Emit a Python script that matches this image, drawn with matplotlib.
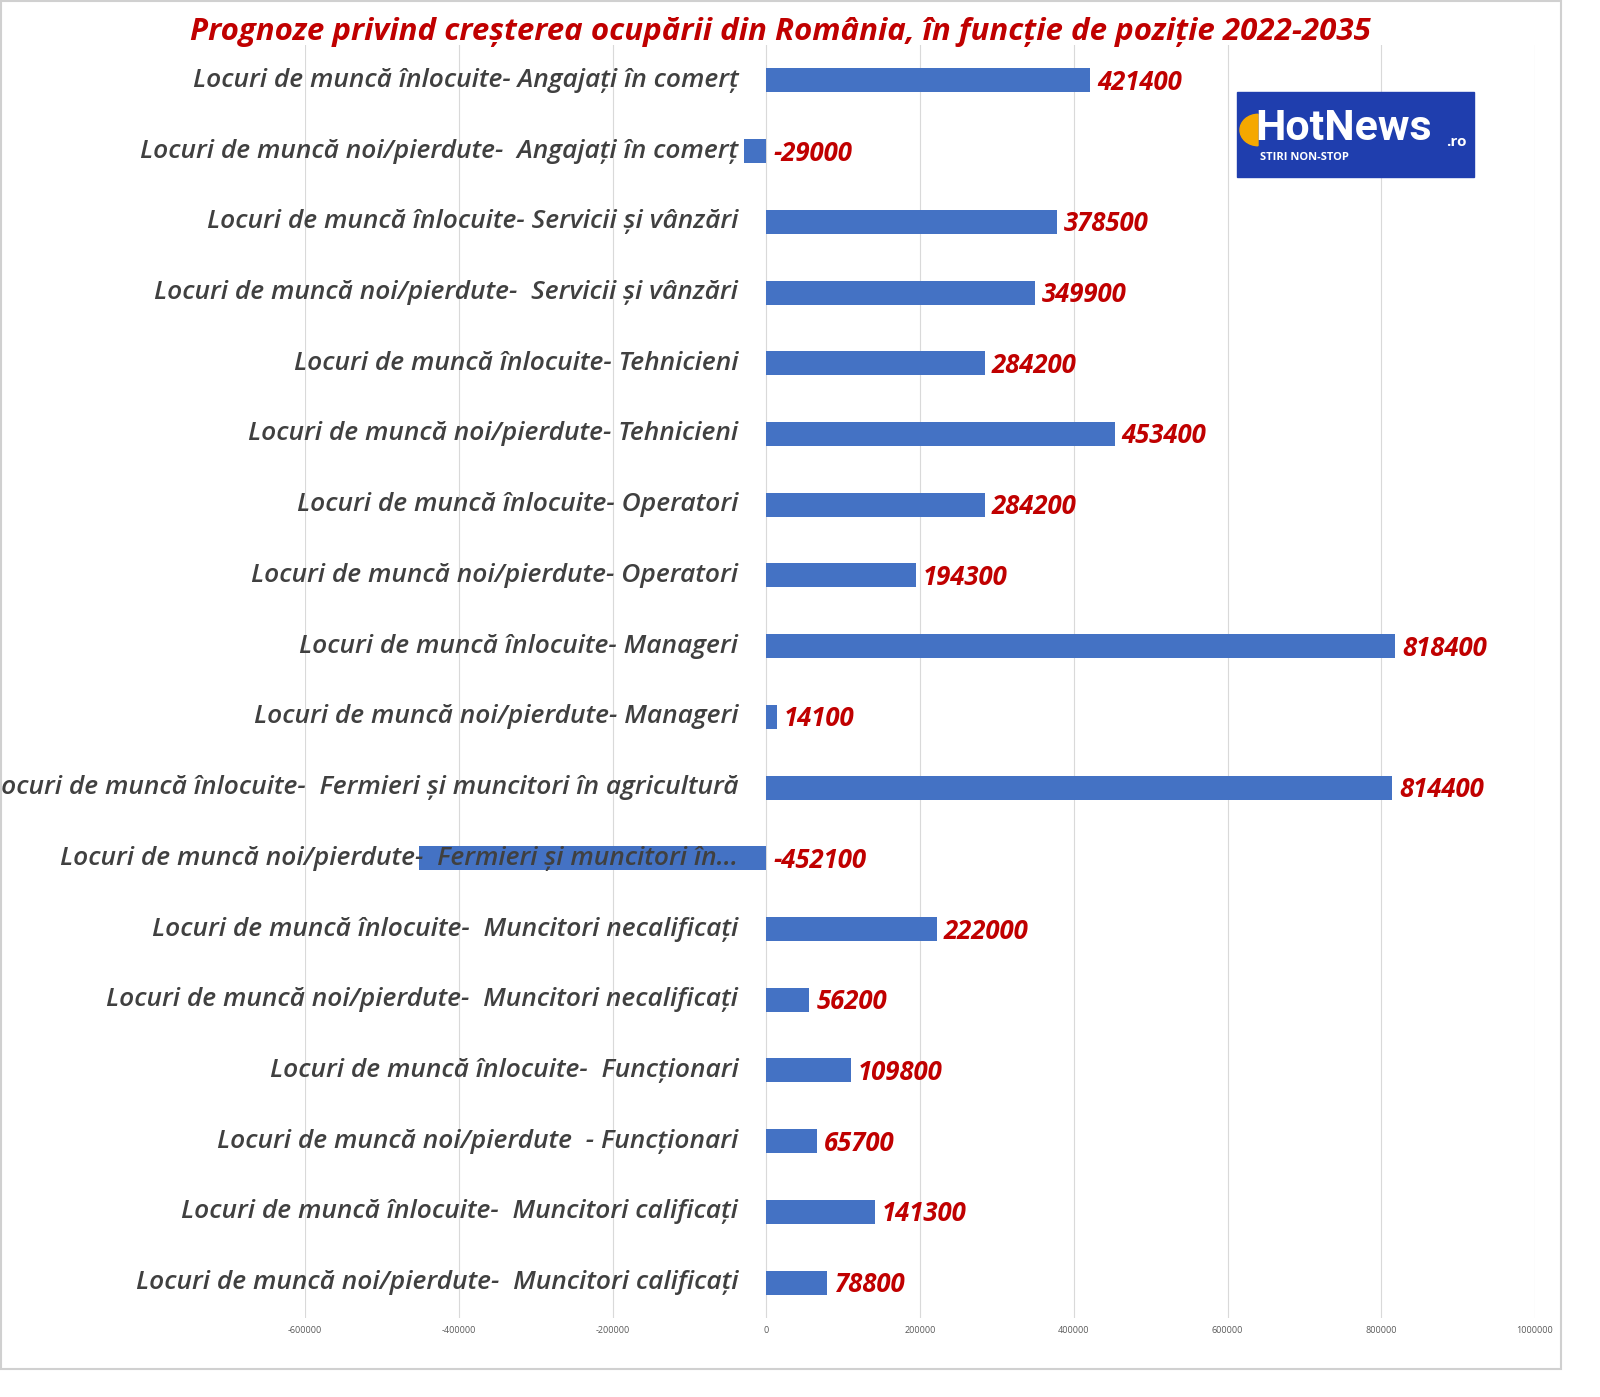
import matplotlib.pyplot as plt
from matplotlib.patches import Rectangle, Wedge

plt.rcParams['font.family'] = ['Open Sans', 'DejaVu Sans']

labels = [
    "Locuri de muncă înlocuite- Angajați în comerț",
    "Locuri de muncă noi/pierdute-  Angajați în comerț",
    "Locuri de muncă înlocuite- Servicii și vânzări",
    "Locuri de muncă noi/pierdute-  Servicii și vânzări",
    "Locuri de muncă înlocuite- Tehnicieni",
    "Locuri de muncă noi/pierdute- Tehnicieni",
    "Locuri de muncă înlocuite- Operatori",
    "Locuri de muncă noi/pierdute- Operatori",
    "Locuri de muncă înlocuite- Manageri",
    "Locuri de muncă noi/pierdute- Manageri",
    "Locuri de muncă înlocuite-  Fermieri și muncitori în agricultură",
    "Locuri de muncă noi/pierdute-  Fermieri și muncitori în...",
    "Locuri de muncă înlocuite-  Muncitori necalificați",
    "Locuri de muncă noi/pierdute-  Muncitori necalificați",
    "Locuri de muncă înlocuite-  Funcționari",
    "Locuri de muncă noi/pierdute  - Funcționari",
    "Locuri de muncă înlocuite-  Muncitori calificați",
    "Locuri de muncă noi/pierdute-  Muncitori calificați",
]
values = [421400, -29000, 378500, 349900, 284200, 453400, 284200, 194300,
          818400, 14100, 814400, -452100, 222000, 56200, 109800, 65700,
          141300, 78800]
ticks = list(range(-600000, 1000001, 200000))

W, H = 1600, 1397
fig = plt.figure(figsize=(16, 13.97), dpi=100)
# frame around chart
fig.patches.append(Rectangle((1 / W, 1 - 1369 / H), 1560 / W, 1368 / H,
                             transform=fig.transFigure, fill=False,
                             edgecolor='#d0d0d0', lw=1.5))

ax = fig.add_axes([305 / W, 1 - 1318 / H, 1230 / W, 1273 / H])
y = list(range(len(values)))
ax.barh(y, values, height=0.34, color='#4472C4', zorder=3)
ax.set_xlim(-600000, 1000000)
ax.set_ylim(len(values) - 0.5, -0.5)
ax.set_xticks(ticks)
ax.set_xticklabels([str(t) for t in ticks])
ax.tick_params(axis='x', labelsize=6.5, colors='#595959', length=0, pad=6)
ax.set_yticks([])
ax.grid(axis='x', color='#d9d9d9', lw=0.8, zorder=0)
for s in ax.spines.values():
    s.set_visible(False)

for yi, lab, v in zip(y, labels, values):
    ax.annotate(lab, (0, yi), xytext=(-28, 0), textcoords='offset pixels',
                ha='right', va='center', fontsize=19, style='italic',
                fontweight='semibold', color='#404040', zorder=5,
                annotation_clip=False)
    ax.annotate(str(v), (max(v, 0), yi), xytext=(7, -2), textcoords='offset pixels',
                ha='left', va='center', fontsize=18.5, style='italic',
                fontweight='bold', color='#C00000', zorder=5)

fig.text(780 / W, 1 - 32 / H,
         "Prognoze privind creșterea ocupării din România, în funcție de poziție 2022-2035",
         ha='center', va='center', fontsize=22.5, style='italic',
         fontweight='bold', color='#C00000')

# logo
lx0, ly0, lw, lh = 1237, 92, 237, 85
fig.patches.append(Rectangle((lx0 / W, 1 - (ly0 + lh) / H), lw / W, lh / H,
                             transform=fig.transFigure, color='#1F3EAE', zorder=10))
fig.patches.append(Wedge((1258 / W, 1 - 130 / H), 18 / W, 90, 270,
                         transform=fig.transFigure, color='#F5A800', zorder=11))
fig.text(1255 / W, 1 - 128 / H, "HotNews", fontsize=31, fontweight='bold',
         color='white', ha='left', va='center', zorder=12, family='Roboto')
fig.text(1446 / W, 1 - 142 / H, ".ro", fontsize=11, fontweight='bold',
         color='white', ha='left', va='center', zorder=12)
fig.text(1260 / W, 1 - 157 / H, "STIRI NON-STOP", fontsize=8, fontweight='bold',
         color='white', ha='left', va='center', zorder=12)

fig.savefig("out.png", dpi=100)
